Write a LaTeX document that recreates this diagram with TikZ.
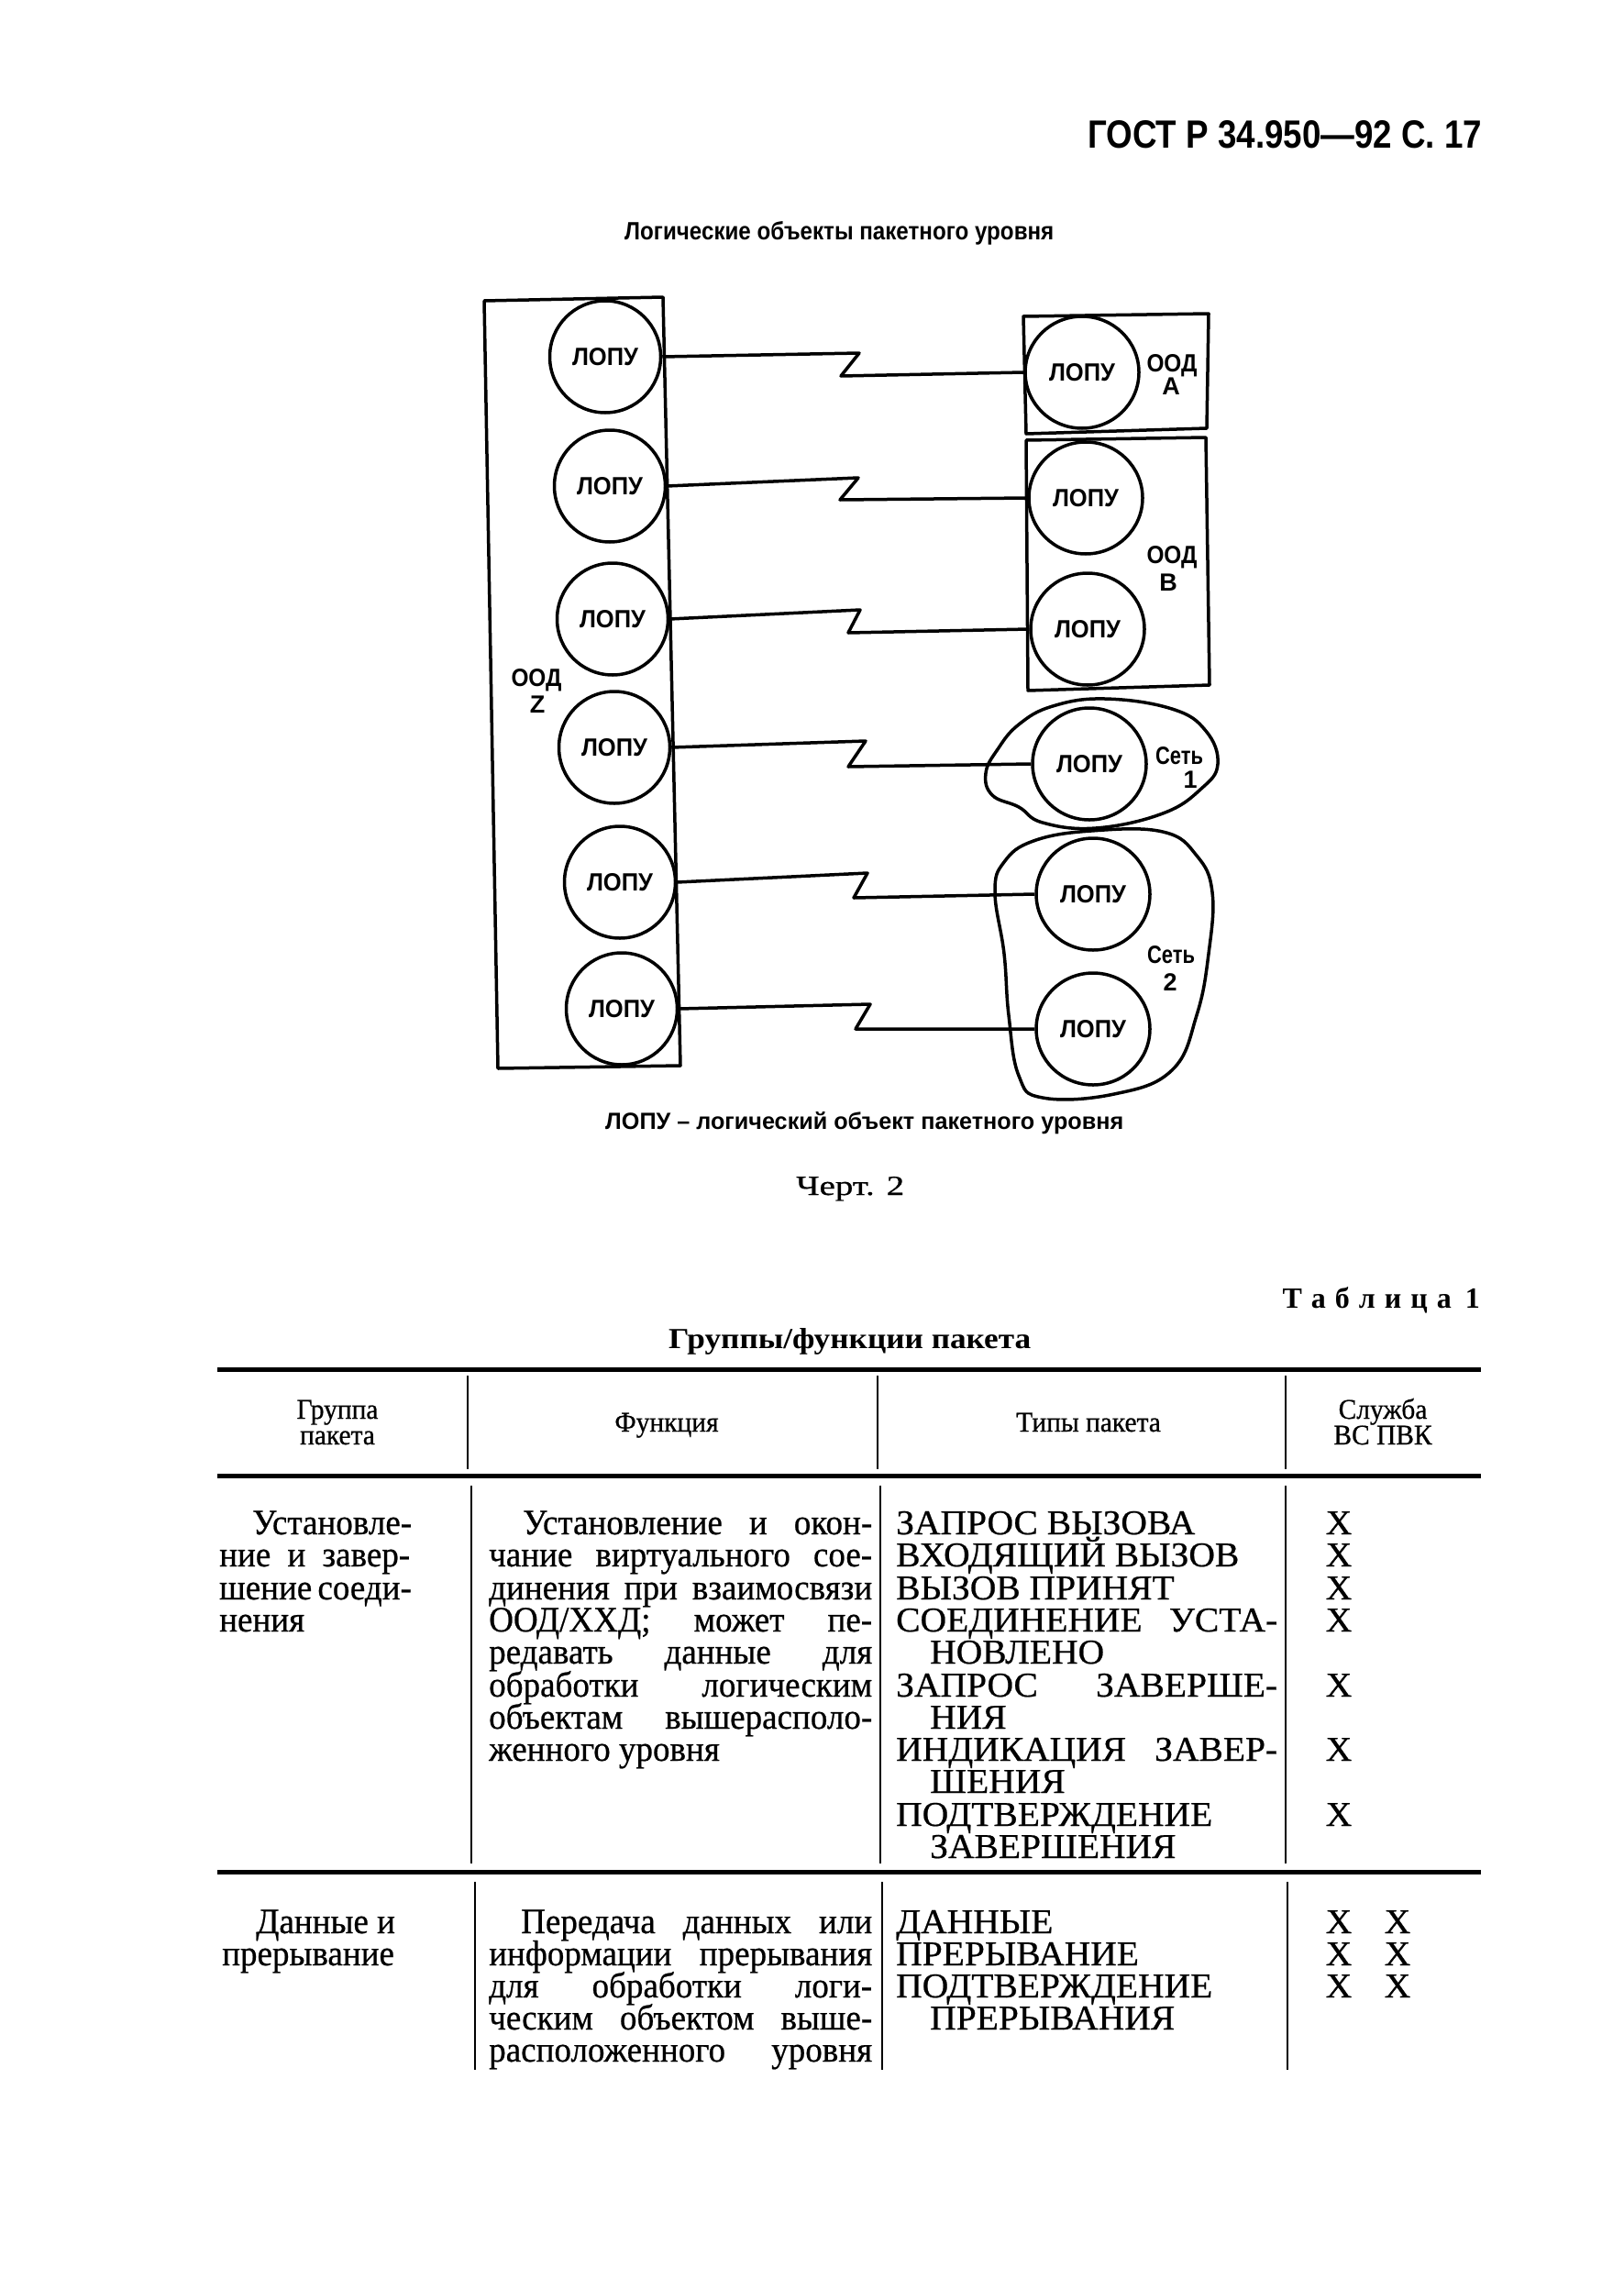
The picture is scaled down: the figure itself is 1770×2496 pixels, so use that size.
\documentclass[tikz,border=0pt]{standalone}
\usepackage{fontspec}
\setmainfont{Liberation Serif}
\setsansfont{Liberation Sans}
\newfontfamily\tabfont{Liberation Serif}[FakeStretch=0.95,FakeBold=0.6]
\newfontfamily\capfont{Liberation Serif}[FakeStretch=1.04,FakeBold=0.6]
\usetikzlibrary{shapes.geometric}
\newcounter{tlc}
\newcommand\tline[3][base west]{\stepcounter{tlc}\node[tx,anchor=#1] (tl\arabic{tlc}) at (#2) {#3};}
\newcommand\lopu{\resizebox{72pt}{19pt}{\sffamily\bfseries ЛОПУ}}
\newcommand\ood{\resizebox{55pt}{19pt}{\sffamily\bfseries ООД}}
\newcommand\seti{\resizebox{52pt}{19pt}{\sffamily\bfseries Сеть}}
\newcommand\jl[2]{\makebox[#1pt][s]{#2}}
\begin{document}
\begin{tikzpicture}[x=1pt,y=-1pt,
  dl/.style={line width=3.5pt,line join=round},
  lc/.style={ellipse,draw,line width=3.5pt,minimum width=121pt,minimum height=122pt,inner sep=0pt},
  rc/.style={ellipse,draw,line width=3.5pt,minimum width=124pt,minimum height=122pt,inner sep=0pt},
  lab/.style={inner sep=0pt,anchor=base,font=\sffamily\bfseries\fontsize{27}{27}\selectfont},
  tx/.style={inner sep=0pt,font=\tabfont\fontsize{39}{39}\selectfont},
  tc/.style={inner sep=0pt,font=\capfont\fontsize{38}{38}\selectfont},
  th/.style={inner sep=0pt,anchor=base,font=\tabfont\fontsize{31}{31}\selectfont},
  rule/.style={line width=5pt},
  vrule/.style={line width=2pt}]
\useasboundingbox (0,0) rectangle (1770,2496);

% header
\node[anchor=base west,inner sep=0pt] (hdr) at (1186,162) {\resizebox{430pt}{30pt}{\sffamily\bfseries ГОСТ Р 34.950—92 С. 17}};
\node[anchor=base west,inner sep=0pt] (title) at (681,262) {\resizebox{468pt}{20pt}{\sffamily\bfseries Логические объекты пакетного уровня}};

% boxes
\draw[dl] (528,328) -- (723,324) -- (742,1162) -- (543,1165) -- cycle;
\draw[dl] (1116,345) -- (1318,342) -- (1316,467) -- (1119,473) -- cycle;
\draw[dl] (1119,480) -- (1315,477) -- (1319,747) -- (1121,753) -- cycle;
% networks
\draw[dl] plot[smooth cycle,tension=0.7] coordinates {(1205,762) (1278,773) (1315,797) (1328,833) (1310,860) (1268,887) (1195,903) (1137,897) (1111,880) (1082,867) (1075,843) (1088,817) (1111,790) (1148,770)};
\draw[dl] plot[smooth cycle,tension=0.7] coordinates {(1190,906) (1268,907) (1305,933) (1322,973) (1318,1040) (1305,1107) (1278,1167) (1215,1193) (1137,1197) (1111,1173) (1100,1107) (1095,1040) (1085,973) (1095,940) (1127,917)};

% left circles
\node[lc] (L1) at (660,389) {\lopu};
\node[lc] (L2) at (665,530) {\lopu};
\node[lc] (L3) at (668,675) {\lopu};
\node[lc] (L4) at (670,815) {\lopu};
\node[lc] (L5) at (676,962) {\lopu};
\node[lc] (L6) at (678,1100) {\lopu};
% right circles
\node[rc] (RA) at (1180,406) {\lopu};
\node[rc] (RB1) at (1184,543) {\lopu};
\node[rc] (RB2) at (1186,686) {\lopu};
\node[rc] (N1) at (1188,833) {\lopu};
\node[rc] (N2a) at (1192,975) {\lopu};
\node[rc] (N2b) at (1192,1122) {\lopu};

% labels
\node[lab] (oz) at (585,748) {\ood};
\node[lab] (z) at (586,777) {Z};
\node[lab] (oa) at (1278,405) {\ood};
\node[lab] (a) at (1277,430) {А};
\node[lab] (ob) at (1278,614) {\ood};
\node[lab] (b) at (1274,644) {В};
\node[lab] (s1) at (1286,833) {\seti};
\node[lab] (n1) at (1298,859) {1};
\node[lab] (s2) at (1277,1050) {\seti};
\node[lab] (n2) at (1276,1080) {2};

% connectors
\coordinate (z1a) at (937,385); \coordinate (z1b) at (917,410);
\coordinate (z2a) at (936,521); \coordinate (z2b) at (916,545);
\coordinate (z3a) at (938,665); \coordinate (z3b) at (925,690);
\coordinate (z4a) at (944,808); \coordinate (z4b) at (925,836);
\coordinate (z5a) at (946,952); \coordinate (z5b) at (931,979);
\coordinate (z6a) at (949,1095); \coordinate (z6b) at (933,1122);
\draw[dl] (L1.east) -- (z1a) -- (z1b) -- (RA.west);
\draw[dl] (L2.east) -- (z2a) -- (z2b) -- (RB1.west);
\draw[dl] (L3.east) -- (z3a) -- (z3b) -- (RB2.west);
\draw[dl] (L4.east) -- (z4a) -- (z4b) -- (N1.west);
\draw[dl] (L5.east) -- (z5a) -- (z5b) -- (N2a.west);
\draw[dl] (L6.east) -- (z6a) -- (z6b) -- (N2b.west);

% captions
\node[anchor=base west,inner sep=0pt] (cap) at (660,1231) {\resizebox{565pt}{19pt}{\sffamily\bfseries ЛОПУ – логический объект пакетного уровня}};
\node[anchor=base west,inner sep=0pt] (chert) at (868,1303) {\resizebox{118pt}{20pt}{\capfont Черт. 2}};

% table titles
\node[anchor=base east,inner sep=0pt,font=\bfseries\fontsize{32}{32}\selectfont] (tabn) at (1614,1426) {Т\kern10pt а\kern10pt б\kern10pt л\kern10pt и\kern10pt ц\kern10pt а\kern15pt 1};
\node[anchor=base west,inner sep=0pt] (tabt) at (729,1470) {\resizebox{395pt}{22pt}{\bfseries Группы/функции пакета}};

% rules
\coordinate (ra1) at (237,1493); \coordinate (ra2) at (1615,1493);
\coordinate (rb1) at (237,1609); \coordinate (rb2) at (1615,1609);
\coordinate (rc1) at (237,2041); \coordinate (rc2) at (1615,2041);
\draw[rule] (ra1) -- (ra2);
\draw[rule] (rb1) -- (rb2);
\draw[rule] (rc1) -- (rc2);
% verticals
\draw[vrule] (510,1500) -- (510,1602);
\draw[vrule] (957,1500) -- (957,1602);
\draw[vrule] (1402,1500) -- (1402,1602);
\draw[vrule] (514,1620) -- (514,2032);
\draw[vrule] (960,1620) -- (960,2032);
\draw[vrule] (1402,1620) -- (1402,2032);
\draw[vrule] (518,2052) -- (518,2257);
\draw[vrule] (962,2052) -- (962,2257);
\draw[vrule] (1404,2052) -- (1404,2257);

% header row
\node[th] (h1a) at (368,1547) {Группа};
\node[th] (h1b) at (368,1575) {пакета};
\node[th] (h2) at (727,1561) {Функция};
\node[th] (h3) at (1187,1561) {Типы пакета};
\node[th] (h4a) at (1508,1547) {Служба};
\node[th] (h4b) at (1508,1575) {ВС ПВК};

% row 1, column 1
\tline{275,1673}{Установле-}
\tline{239,1708}{\jl{208}{ние и завер-}}
\tline{239,1744}{\jl{208}{шение соеди-}}
\tline{239,1779}{нения}
% row 1, column 2
\tline{570,1673}{\jl{381}{Установление и окон-}}
\tline{533,1708}{\jl{418}{чание виртуального сое-}}
\tline{533,1744}{\jl{418}{динения при взаимосвязи}}
\tline{533,1779}{\jl{418}{ООД/ХХД; может пе-}}
\tline{533,1814}{\jl{418}{редавать данные для}}
\tline{533,1850}{\jl{418}{обработки логическим}}
\tline{533,1885}{\jl{418}{объектам вышерасполо-}}
\tline{533,1920}{женного уровня}
% row 1, column 3
\begin{scope}[tx/.style={tc}]
\tline{977,1673}{ЗАПРОС ВЫЗОВА}
\tline{977,1708}{ВХОДЯЩИЙ ВЫЗОВ}
\tline{977,1744}{ВЫЗОВ ПРИНЯТ}
\tline{977,1779}{\jl{416}{СОЕДИНЕНИЕ УСТА-}}
\tline{1014,1814}{НОВЛЕНО}
\tline{977,1850}{\jl{416}{ЗАПРОС ЗАВЕРШЕ-}}
\tline{1014,1885}{НИЯ}
\tline{977,1920}{\jl{416}{ИНДИКАЦИЯ ЗАВЕР-}}
\tline{1014,1955}{ШЕНИЯ}
\tline{977,1991}{ПОДТВЕРЖДЕНИЕ}
\tline{1014,2026}{ЗАВЕРШЕНИЯ}
% row 1, column 4
\tline[base]{1460,1673}{X}
\tline[base]{1460,1708}{X}
\tline[base]{1460,1744}{X}
\tline[base]{1460,1779}{X}
\tline[base]{1460,1850}{X}
\tline[base]{1460,1920}{X}
\tline[base]{1460,1991}{X}
\end{scope}

% row 2
\tline{279,2108}{Данные и}
\tline{242,2143}{прерывание}
\tline{568,2108}{\jl{383}{Передача данных или}}
\tline{533,2143}{\jl{418}{информации прерывания}}
\tline{533,2178}{\jl{418}{для обработки логи-}}
\tline{533,2213}{\jl{418}{ческим объектом выше-}}
\tline{533,2248}{\jl{418}{расположенного уровня}}
\begin{scope}[tx/.style={tc}]
\tline{977,2108}{ДАННЫЕ}
\tline{977,2143}{ПРЕРЫВАНИЕ}
\tline{977,2178}{ПОДТВЕРЖДЕНИЕ}
\tline{1014,2213}{ПРЕРЫВАНИЯ}
\tline[base]{1460,2108}{X}
\tline[base]{1524,2108}{X}
\tline[base]{1460,2143}{X}
\tline[base]{1524,2143}{X}
\tline[base]{1460,2178}{X}
\tline[base]{1524,2178}{X}
\end{scope}
\end{tikzpicture}
\end{document}
